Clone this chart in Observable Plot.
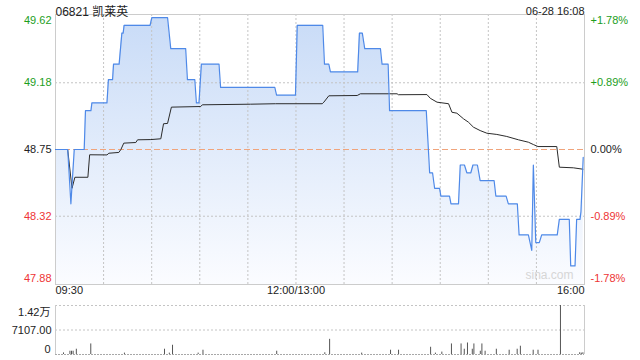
<!DOCTYPE html>
<html><head><meta charset="utf-8">
<script src="https://cdn.jsdelivr.net/npm/d3@7"></script>
<script src="https://cdn.jsdelivr.net/npm/@observablehq/plot@0.6"></script>
<style>
html,body{margin:0;padding:0;background:#fff;}
#wrap{position:relative;width:640px;height:360px;overflow:hidden;}
#main{position:absolute;left:0;top:0;}
#vol{position:absolute;left:0;top:300px;}
</style></head><body><div id="wrap"><div id="main"></div><div id="vol"></div></div>
<script>
const title = "06821 凯莱英";
const stamp = "06-28 16:08";
const watermark = "sina.com";
const prevClose = 48.75;
const priceTicks = [49.62, 49.18, 48.75, 48.32, 47.88];
const priceTickLabels = ["49.62", "49.18", "48.75", "48.32", "47.88"];
const pctTickLabels = ["+1.78%", "+0.89%", "0.00%", "-0.89%", "-1.78%"];
const timeTicks = [0, 150, 330];
const timeTickLabels = ["09:30", "12:00/13:00", "16:00"];
const gridMinutes = [30, 60, 90, 120, 150, 180, 210, 240, 270, 300];

// minutes since 09:30 (trading time), price
const priceMinutes = [0, 7.6, 9.6, 11.7, 17.9, 18.7, 22.1, 22.7, 32.1, 33, 35.6, 36.2, 39.7, 41.4, 42.2, 42.8, 59, 60.1, 69.9, 71.9, 81.2, 82.3, 86.9, 87.9, 89.5, 91, 102, 103, 136.8, 137.9, 149.7, 150.8, 166.7, 167.8, 170.5, 171.5, 188.5, 189.6, 191.4, 192.9, 202.7, 203.7, 207.5, 208.4, 231.3, 233.4, 235.2, 236.5, 239.6, 240.4, 245.8, 246.7, 251.4, 252.5, 255.1, 256.6, 259.1, 260.4, 263.2, 264.9, 273.6, 274.7, 281.1, 282.5, 288.1, 289.2, 295, 297.1, 298.1, 299.6, 301.8, 303.3, 313, 314.3, 320.5, 321.4, 324.1, 325.1, 327.2, 327.8, 329.2];
const prices = [48.75, 48.75, 48.40, 48.75, 48.75, 49.00, 49.00, 49.05, 49.05, 49.20, 49.20, 49.30, 49.30, 49.50, 49.50, 49.55, 49.55, 49.60, 49.60, 49.40, 49.40, 49.20, 49.20, 49.05, 49.05, 49.30, 49.30, 49.15, 49.15, 49.10, 49.10, 49.55, 49.55, 49.30, 49.30, 49.25, 49.25, 49.50, 49.50, 49.40, 49.40, 49.30, 49.30, 49.00, 49.00, 48.60, 48.60, 48.50, 48.50, 48.45, 48.45, 48.40, 48.40, 48.65, 48.65, 48.60, 48.60, 48.65, 48.65, 48.55, 48.55, 48.45, 48.45, 48.40, 48.40, 48.20, 48.20, 48.10, 48.65, 48.15, 48.15, 48.20, 48.20, 48.30, 48.30, 48.00, 48.00, 48.30, 48.30, 48.35, 48.70];

const avgMinutes = [0, 7.6, 10.3, 12.1, 20.2, 21.3, 32.1, 33.3, 39.5, 40.8, 42.6, 50.1, 51.2, 59.5, 65.7, 67.4, 69.9, 72.3, 90.6, 91.6, 121.7, 137.3, 166.4, 167.4, 170.5, 188.2, 190.2, 213.1, 213.9, 231.7, 233.8, 238, 245.2, 247.3, 250.4, 254.5, 257.6, 260.7, 264.9, 269.1, 275.3, 281.5, 288.8, 295, 298.1, 301, 312.7, 314.3, 323, 329];
const avgPrices = [48.75, 48.75, 48.50, 48.571, 48.571, 48.716, 48.715, 48.726, 48.731, 48.75, 48.791, 48.795, 48.8125, 48.814, 48.819, 48.916, 48.918, 49.023, 49.027, 49.038, 49.042, 49.045, 49.045, 49.055, 49.096, 49.098, 49.109, 49.109, 49.103, 49.104, 49.08, 49.055, 49.045, 48.99, 48.984, 48.948, 48.926, 48.894, 48.872, 48.855, 48.847, 48.834, 48.8125, 48.797, 48.782, 48.769, 48.769, 48.636, 48.632, 48.623];

const volMinutes = [5, 9, 10, 11, 13, 22, 43, 68, 71, 73, 89, 92, 138, 168, 171, 191, 209, 214, 234, 237, 241, 247, 253, 255, 257, 260, 261, 265, 266, 268, 275, 283, 288, 290, 298, 301, 315, 327, 328, 329];
const volumes = [460, 950, 950, 950, 1530, 3060, 400, 1530, 400, 2680, 400, 1240, 950, 500, 4400, 400, 1240, 1240, 2100, 400, 700, 3060, 3060, 1530, 3340, 1530, 3060, 950, 3060, 950, 1530, 1240, 1530, 2400, 1240, 1240, 14214, 500, 400, 500];
const volTicks = [14214, 7107, 0];
const volTickLabels = ["1.42万", "7107.00", "0"];

const FONT = '"Liberation Sans", Arial, "Noto Sans CJK SC", sans-serif';
const UP = "#1c9e1c", DOWN = "#ee3535", FLAT = "#222";
const tickColor = v => v > prevClose + 1e-9 ? UP : v < prevClose - 1e-9 ? DOWN : FLAT;

const priceData = priceMinutes.map((m, i) => ({m, p: prices[i]}));
const avgData = avgMinutes.map((m, i) => ({m, p: avgPrices[i]}));
const tickData = priceTicks.map((v, i) => ({v, label: priceTickLabels[i], pct: pctTickLabels[i], c: tickColor(v)}));
const yMax = priceTicks[0], yMin = priceTicks[priceTicks.length - 1];
const topTick = tickData.slice(0, 1), midTicks = tickData.slice(1, -1), botTick = tickData.slice(-1);
const timeData = timeTicks.map((m, i) => ({m, label: timeTickLabels[i]}));

const main = Plot.plot({
  width: 640, height: 300,
  marginTop: 14, marginBottom: 16, marginLeft: 55, marginRight: 56,
  x: {domain: [0, 330], axis: null},
  y: {domain: [yMin, yMax], axis: null},
  color: {type: "identity"},
  style: {fontFamily: FONT, fontSize: "11px", background: "transparent", overflow: "visible"},
  marks: [
    Plot.areaY(priceData, {x: "m", y1: yMin, y2: "p", fill: "url(#priceGrad)"}),
    Plot.ruleX(gridMinutes, {stroke: "#c4c4c4", strokeDasharray: "2,2"}),
    Plot.ruleY(priceTicks.slice(1, -1).filter(v => v !== prevClose), {stroke: "#c4c4c4", strokeDasharray: "2,2"}),
    Plot.ruleY([prevClose], {stroke: "#f0a47c", strokeDasharray: "6,3"}),
    Plot.frame({stroke: "#cccccc"}),
    Plot.text([watermark], {frameAnchor: "bottom-right", dx: -11, dy: -6, fill: "#d6d6d6", fontSize: 12, textAnchor: "end"}),
    Plot.line(avgData, {x: "m", y: "p", stroke: "#2b2b2b", strokeWidth: 1}),
    Plot.line(priceData, {x: "m", y: "p", stroke: "#4e89e8", strokeWidth: 1.2}),
    // left price labels
    Plot.text(midTicks, {y: "v", text: "label", fill: "c", frameAnchor: "left", dx: -4, textAnchor: "end"}),
    Plot.text(topTick, {y: "v", text: "label", fill: "c", frameAnchor: "left", dx: -4, dy: 6, textAnchor: "end"}),
    Plot.text(botTick, {y: "v", text: "label", fill: "c", frameAnchor: "left", dx: -4, dy: -6, textAnchor: "end"}),
    // right pct labels
    Plot.text(midTicks, {y: "v", text: "pct", fill: "c", frameAnchor: "right", dx: 6, textAnchor: "start"}),
    Plot.text(topTick, {y: "v", text: "pct", fill: "c", frameAnchor: "right", dx: 6, dy: 6, textAnchor: "start"}),
    Plot.text(botTick, {y: "v", text: "pct", fill: "c", frameAnchor: "right", dx: 6, dy: -6, textAnchor: "start"}),
    // time labels
    Plot.text(timeData.slice(0, 1), {x: "m", text: "label", frameAnchor: "bottom", dy: 9, textAnchor: "start", fill: "#222"}),
    Plot.text(timeData.slice(1, -1), {x: "m", text: "label", frameAnchor: "bottom", dy: 9, textAnchor: "middle", fill: "#222"}),
    Plot.text(timeData.slice(-1), {x: "m", text: "label", frameAnchor: "bottom", dy: 9, textAnchor: "end", fill: "#222"}),
    // header
    Plot.text([title], {frameAnchor: "top-left", dy: -7, textAnchor: "start", fontSize: 12, fill: "#222"}),
    Plot.text([stamp], {frameAnchor: "top-right", dy: -7, textAnchor: "end", fill: "#222"})
  ]
});
document.getElementById("main").appendChild(main);
{
  const svg = d3.select(main.tagName.toLowerCase() === "svg" ? main : main.querySelector("svg"));
  const g = svg.insert("defs", ":first-child").append("linearGradient")
    .attr("id", "priceGrad").attr("gradientUnits", "userSpaceOnUse")
    .attr("x1", 0).attr("y1", 14).attr("x2", 0).attr("y2", 284);
  g.append("stop").attr("offset", "0%").attr("stop-color", "#c8dbf7");
  g.append("stop").attr("offset", "100%").attr("stop-color", "#fbfcff");
}

const volData = volMinutes.map((m, i) => ({m, v: volumes[i]}));
const volTickData = volTicks.map((v, i) => ({v, label: volTickLabels[i]}));
const vol = Plot.plot({
  width: 640, height: 60,
  marginTop: 5, marginBottom: 6, marginLeft: 55, marginRight: 56,
  x: {domain: [0, 330], axis: null},
  y: {domain: [0, volTicks[0]], axis: null},
  style: {fontFamily: FONT, fontSize: "11px", background: "transparent", overflow: "visible"},
  marks: [
    Plot.ruleY(volTicks.slice(0, -1), {stroke: "#c4c4c4", strokeDasharray: "2,2"}),
    Plot.ruleX([0, 330], {stroke: "#cccccc"}),
    Plot.ruleY([0], {stroke: "#a8a8a8", strokeDasharray: "2,1"}),
    Plot.ruleX(volData, {x: "m", y1: 0, y2: "v", stroke: "#555", strokeWidth: 1}),
    Plot.text(volTickData.slice(0, 1), {y: "v", text: "label", frameAnchor: "left", dx: -5, dy: 7, textAnchor: "end", fill: "#222"}),
    Plot.text(volTickData.slice(1, -1), {y: "v", text: "label", frameAnchor: "left", dx: -4, textAnchor: "end", fill: "#222"}),
    Plot.text(volTickData.slice(-1), {y: "v", text: "label", frameAnchor: "left", dx: -5, dy: -5, textAnchor: "end", fill: "#222"})
  ]
});
document.getElementById("vol").appendChild(vol);
</script>
</body></html>
